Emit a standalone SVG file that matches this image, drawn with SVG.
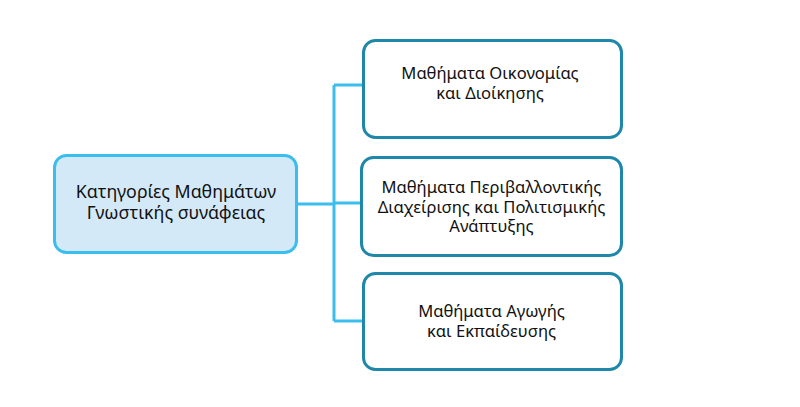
<svg xmlns="http://www.w3.org/2000/svg" width="800" height="407" viewBox="0 0 800 407">
<style>
.t{font-family:"Noto Sans","Open Sans",sans-serif;font-size:16.6px;fill:#111;text-anchor:middle}
.r{font-size:17.8px}
.c{fill:none;stroke:#3bbdee;stroke-width:3}
.n{fill:#fff;stroke:#1f87aa;stroke-width:3}
</style>
<rect width="800" height="407" fill="#fff"/>
<g id="connectors">
<path class="c" d="M297 204H334M334 85V321M334 85H363M334 203H361M334 321H363"/>
</g>
<g id="root">
<rect x="54.5" y="155.5" width="242" height="97" rx="12" fill="#d4e9f8" stroke="#3bbdee" stroke-width="3"/>
<text class="t r" x="176" y="198">Κατηγορίες Μαθημάτων</text>
<text class="t r" x="176" y="219">Γνωστικής συνάφειας</text>
</g>
<g id="n1">
<rect class="n" x="363.5" y="40.5" width="258" height="97" rx="12"/>
<text class="t" x="490" y="79">Μαθήματα Οικονομίας</text>
<text class="t" x="490" y="99">και Διοίκησης</text>
</g>
<g id="n2">
<rect class="n" x="361.5" y="157.5" width="260" height="98" rx="12"/>
<text class="t" x="491.5" y="193">Μαθήματα Περιβαλλοντικής</text>
<text class="t" x="491.5" y="213">Διαχείρισης και Πολιτισμικής</text>
<text class="t" x="491.5" y="232">Ανάπτυξης</text>
</g>
<g id="n3">
<rect class="n" x="363.5" y="273.5" width="258" height="96" rx="12"/>
<text class="t" x="491.5" y="317">Μαθήματα Αγωγής</text>
<text class="t" x="491.5" y="337">και Εκπαίδευσης</text>
</g>
</svg>
